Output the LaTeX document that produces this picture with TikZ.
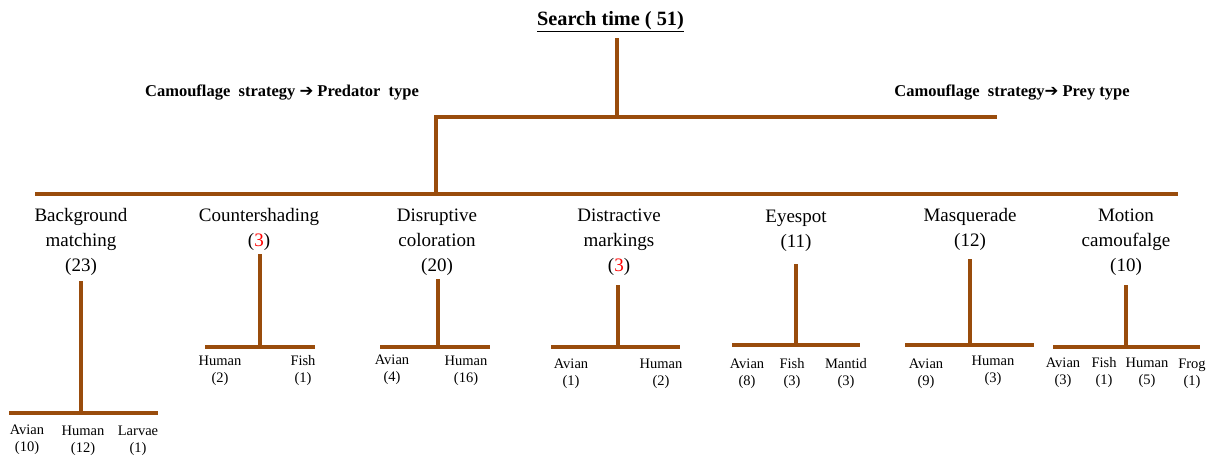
\documentclass[tikz,border=0pt]{standalone}
\usepackage{fontspec}
\setmainfont{Liberation Serif}
\newfontfamily\arrowfont{DejaVu Sans}
\definecolor{brn}{RGB}{153,76,12}
\begin{document}
\begin{tikzpicture}[x=1pt,y=-1pt,
  branch/.style={draw=brn, line width=4.2pt},
  cat/.style={align=center, font=\fontsize{19}{25}\selectfont, inner sep=0pt},
  leaf/.style={align=center, font=\fontsize{14.5}{17}\selectfont, inner sep=0pt},
  head/.style={font=\bfseries\fontsize{16.5}{18}\selectfont, inner sep=0pt}]
\useasboundingbox (0,0) rectangle (1226,461);

% title and headings
\node[font=\bfseries\fontsize{20.3}{22}\selectfont, inner sep=0pt, anchor=base] (title) at (610.5,25) {\underline{Search time ( 51)}};
\node[head] (pred) at (282,93) {Camouflage\ \ strategy {\arrowfont\bfseries ➔} Predator\ \ type};
\node[head] (prey) at (1012,93) {Camouflage\ \ strategy{\arrowfont\bfseries ➔} Prey type};

% main tree
\coordinate (t0) at (617,38);
\coordinate (t1) at (617,117);
\coordinate (hL) at (434,117);
\coordinate (hR) at (997,117);
\coordinate (v0) at (436,117);
\coordinate (v1) at (436,194);
\coordinate (mL) at (35,194);
\coordinate (mR) at (1178,194);
\draw[branch] (t0) -- (t1);
\draw[branch] (hL) -- (hR);
\draw[branch] (v0) -- (v1);
\draw[branch] (mL) -- (mR);

% Background matching
\node[cat] (bm) at (81,242) {Background\\matching\\(23)};
\coordinate (bmT) at (81,281); \coordinate (bmB) at (81,413);
\coordinate (bmL) at (9,413); \coordinate (bmR) at (158,413);
\draw[branch] (bmT) -- (bmB);
\draw[branch] (bmL) -- (bmR);
\node[leaf] (bm1) at (27,440) {Avian\\(10)};
\node[leaf] (bm2) at (83,441) {Human\\(12)};
\node[leaf] (bm3) at (138,441) {Larvae\\(1)};

% Countershading
\node[cat] (cs) at (259,229) {Countershading\\(\textcolor{red}{3})};
\coordinate (csT) at (260,254); \coordinate (csB) at (260,347);
\coordinate (csL) at (205,347); \coordinate (csR) at (315,347);
\draw[branch] (csT) -- (csB);
\draw[branch] (csL) -- (csR);
\node[leaf] (cs1) at (220,371) {Human\\(2)};
\node[leaf] (cs2) at (303,371) {Fish\\(1)};

% Disruptive coloration
\node[cat] (dc) at (437,242) {Disruptive\\coloration\\(20)};
\coordinate (dcT) at (438,279); \coordinate (dcB) at (438,347);
\coordinate (dcL) at (380,347); \coordinate (dcR) at (490,347);
\draw[branch] (dcT) -- (dcB);
\draw[branch] (dcL) -- (dcR);
\node[leaf] (dc1) at (392,370) {Avian\\(4)};
\node[leaf] (dc2) at (466,371) {Human\\(16)};

% Distractive markings
\node[cat] (dm) at (619,242) {Distractive\\markings\\(\textcolor{red}{3})};
\coordinate (dmT) at (618,285); \coordinate (dmB) at (618,347);
\coordinate (dmL) at (551,347); \coordinate (dmR) at (680,347);
\draw[branch] (dmT) -- (dmB);
\draw[branch] (dmL) -- (dmR);
\node[leaf] (dm1) at (571,374) {Avian\\(1)};
\node[leaf] (dm2) at (661,374) {Human\\(2)};

% Eyespot
\node[cat] (es) at (796,231) {Eyespot\\(11)};
\coordinate (esT) at (796,264); \coordinate (esB) at (796,345);
\coordinate (esL) at (732,345); \coordinate (esR) at (860,345);
\draw[branch] (esT) -- (esB);
\draw[branch] (esL) -- (esR);
\node[leaf] (es1) at (747,374) {Avian\\(8)};
\node[leaf] (es2) at (792,374) {Fish\\(3)};
\node[leaf] (es3) at (846,374) {Mantid\\(3)};

% Masquerade
\node[cat] (mq) at (970,229) {Masquerade\\(12)};
\coordinate (mqT) at (970,259); \coordinate (mqB) at (970,345);
\coordinate (mqL) at (905,345); \coordinate (mqR) at (1034,345);
\draw[branch] (mqT) -- (mqB);
\draw[branch] (mqL) -- (mqR);
\node[leaf] (mq1) at (926,374) {Avian\\(9)};
\node[leaf] (mq2) at (993,371) {Human\\(3)};

% Motion camoufalge
\node[cat] (mc) at (1126,242) {Motion\\camoufalge\\(10)};
\coordinate (mcT) at (1126,285); \coordinate (mcB) at (1126,347);
\coordinate (mcL) at (1053,347); \coordinate (mcR) at (1200,347);
\draw[branch] (mcT) -- (mcB);
\draw[branch] (mcL) -- (mcR);
\node[leaf] (mc1) at (1063,373) {Avian\\(3)};
\node[leaf] (mc2) at (1104,373) {Fish\\(1)};
\node[leaf] (mc3) at (1147,373) {Human\\(5)};
\node[leaf] (mc4) at (1192,374) {Frog\\(1)};
\end{tikzpicture}
\end{document}
